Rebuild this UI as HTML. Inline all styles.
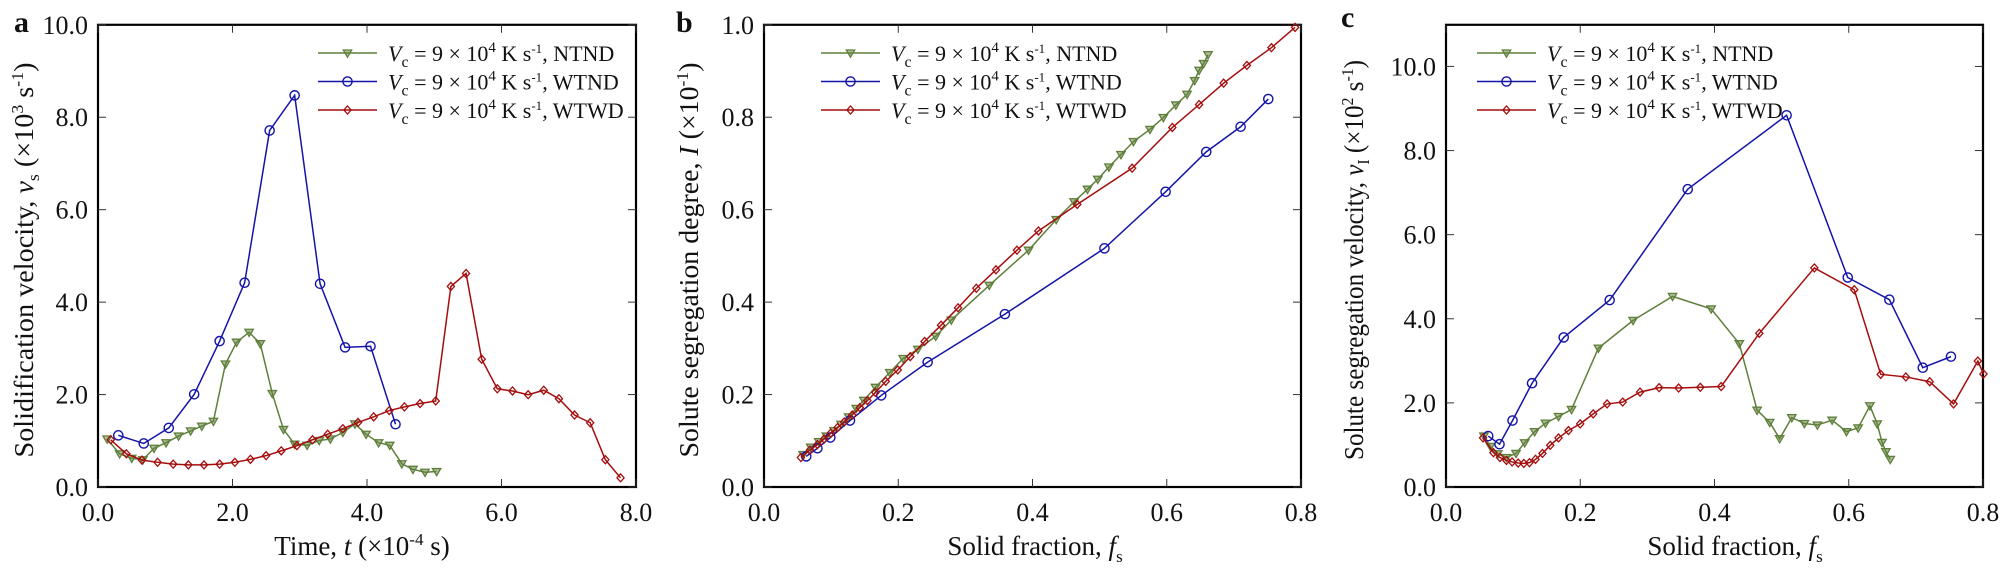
<!DOCTYPE html>
<html><head><meta charset="utf-8"><style>
html,body{margin:0;padding:0;background:#fff;width:2000px;height:579px;overflow:hidden}
svg{display:block}
svg, svg text{font-family:"Liberation Serif","DejaVu Serif",serif !important;fill:#111}
</style></head><body>
<svg id="s" width="2000" height="579" xmlns="http://www.w3.org/2000/svg" font-family="Liberation Serif, serif"></svg>
<script>
const S=document.getElementById('s');let h='';
const SY=2.706, TOP=24.8, BOT=487;
const G='#5f7f3a',B='#1414a8',R='#a50d0d';
function mk(col,type,x,y){
 if(type=='c')return `<circle cx="${x}" cy="${y}" r="4.6" fill="none" stroke="${col}" stroke-width="1.4"/>`;
 if(type=='t')return `<path d="M${x-4.2} ${y-3}L${x+4.2} ${y-3}L${x} ${y+4.2}Z" fill="${col}" fill-opacity="0.5" stroke="${col}" stroke-width="1.3"/>`;
 return `<path d="M${x} ${y-4}L${x+3.6} ${y}L${x} ${y+4}L${x-3.6} ${y}Z" fill="none" stroke="${col}" stroke-width="1.3"/>`;
}
function series(pts,off,sx,col,type){
 const p=pts.map(a=>[off+a[0]/sx,a[1]/SY]);
 h+=`<polyline points="${p.map(a=>a.join(',')).join(' ')}" fill="none" stroke="${col}" stroke-width="1.5"/>`;
 p.forEach(a=>h+=mk(col,type,a[0],a[1]));
}
const F='font-family="Liberation Serif, serif"';
function panel(o){
 const L=o.L,Rr=o.R;
 h+=`<rect x="${L}" y="${TOP}" width="${Rr-L}" height="${BOT-TOP}" fill="none" stroke="#000" stroke-width="2.2"/>`;
 o.xt.forEach((v,i)=>{const x=L+(Rr-L)*v/o.xmax;
  h+=`<line x1="${x}" y1="${BOT}" x2="${x}" y2="${BOT-8}" stroke="#333" stroke-width="1"/><line x1="${x}" y1="${TOP}" x2="${x}" y2="${TOP+8}" stroke="#333" stroke-width="1"/>`;
  h+=`<text ${F} x="${x}" y="521" font-size="26" text-anchor="middle">${o.xl[i]}</text>`;});
 o.yt.forEach((v,i)=>{const y=BOT-(BOT-TOP)*v/o.ymax;
  h+=`<line x1="${L}" y1="${y}" x2="${L+8}" y2="${y}" stroke="#333" stroke-width="1"/><line x1="${Rr}" y1="${y}" x2="${Rr-8}" y2="${y}" stroke="#333" stroke-width="1"/>`;
  h+=`<text ${F} x="${L-10}" y="${y+9}" font-size="26" text-anchor="end">${o.yl[i]}</text>`;});
 h+=`<text ${F} x="${o.px}" y="${o.py}" font-size="30" font-weight="bold">${o.p}</text>`;
 h+=`<text ${F} x="${o.xlx}" y="555" font-size="27" text-anchor="middle">${o.xlab}</text>`;
 h+=`<text ${F} transform="translate(${o.ylx},260) rotate(-90)" font-size="27" text-anchor="middle" textLength="${o.ylw}" lengthAdjust="spacingAndGlyphs">${o.ylab}</text>`;
 const leg=[['NTND',G,'t'],['WTND',B,'c'],['WTWD',R,'d']];
 leg.forEach((l,i)=>{const y=53+i*28.5;
  h+=`<line x1="${o.lx}" y1="${y}" x2="${o.lx+59}" y2="${y}" stroke="${l[1]}" stroke-width="1.5"/>`+mk(l[1],l[2],o.lx+29.5,y);
  h+=`<text ${F} x="${o.lx+70}" y="${y+8}" font-size="22"><tspan font-style="italic">V</tspan><tspan font-size="16" dy="6">c</tspan><tspan dy="-6"> = 9 × 10</tspan><tspan font-size="15" dy="-9">4</tspan><tspan dy="9"> K s</tspan><tspan font-size="13" dy="-8">-1</tspan><tspan dy="8">, ${l[0]}</tspan></text>`;});
}
const xa=[0,2,4,6,8],xl=['0.0','2.0','4.0','6.0','8.0'];
const yA=[0,2,4,6,8,10],yAl=['0.0','2.0','4.0','6.0','8.0','10.0'];
const xb=[0,0.2,0.4,0.6,0.8],xbl=['0.0','0.2','0.4','0.6','0.8'];
panel({L:98,R:636,xt:xa,xl:xl,xmax:8,yt:yA,yl:yAl,ymax:10,p:'a',px:14,py:32,xlx:362,
 xlab:'Time, <tspan font-style="italic">t</tspan> (×10<tspan font-size="17" dy="-10">-4</tspan><tspan dy="10"> s)</tspan>',ylx:33,ylw:395,
 ylab:'Solidification velocity, <tspan font-style="italic">v</tspan><tspan font-size="17" dy="6">s</tspan><tspan dy="-6"> (×10</tspan><tspan font-size="17" dy="-10">3</tspan><tspan dy="10"> s</tspan><tspan font-size="17" dy="-10">-1</tspan><tspan dy="10">)</tspan>',lx:318});
panel({L:764,R:1301,xt:xb,xl:xbl,xmax:0.8,yt:[0,.2,.4,.6,.8,1],yl:['0.0','0.2','0.4','0.6','0.8','1.0'],ymax:1,p:'b',px:676,py:32,xlx:1035,
 xlab:'Solid fraction, <tspan font-style="italic">f</tspan><tspan font-size="17" dy="7">s</tspan>',ylx:698,ylw:395,
 ylab:'Solute segregation degree, <tspan font-style="italic">I</tspan> (×10<tspan font-size="17" dy="-10">-1</tspan><tspan dy="10">)</tspan>',lx:821});
panel({L:1446,R:1983,xt:xb,xl:xbl,xmax:0.8,yt:[0,2,4,6,8,10],yl:yAl,ymax:10.99,p:'c',px:1341,py:27,xlx:1735,
 xlab:'Solid fraction, <tspan font-style="italic">f</tspan><tspan font-size="17" dy="7">s</tspan>',ylx:1363,ylw:400,
 ylab:'Solute segregation velocity, <tspan font-style="italic">v</tspan><tspan font-size="17" dy="6">I</tspan><tspan dy="-6"> (×10</tspan><tspan font-size="17" dy="-10">2</tspan><tspan dy="10"> s</tspan><tspan font-size="17" dy="-10">-1</tspan><tspan dy="10">)</tspan>',lx:1477});
// panel a
series([[240,1188],[268,1228],[295,1240],[320,1244],[345,1213],[372,1198],[400,1180],[427,1166],[452,1153],[478,1140],[505,985],[530,926],[558,899],[583,930],[610,1065],[635,1162],[660,1202],[688,1205],[715,1192],[740,1188],[768,1170],[795,1147],[820,1175],[848,1198],[873,1205],[900,1255],[925,1270],[952,1278],[978,1276]],0,2.24,G,'t');
series([[265,1178],[322,1200],[378,1158],[435,1067],[492,923],[548,765],[604,353],[660,258],[717,768],[773,940],[830,937],[886,1148]],0,2.24,B,'c');
series([[248,1190],[283,1228],[318,1245],[353,1251],[388,1256],[422,1258],[457,1258],[492,1256],[526,1251],[561,1243],[596,1233],[630,1220],[665,1206],[700,1190],[734,1175],[768,1160],[802,1143],[837,1128],[872,1111],[906,1101],[941,1092],[976,1085],[1010,775],[1044,740],[1079,972],[1114,1052],[1148,1058],[1183,1068],[1218,1056],[1252,1079],[1287,1123],[1322,1144],[1356,1244],[1390,1293]],0,2.24,R,'d');
// panel b
series([[343,1230],[360,1210],[378,1195],[395,1180],[412,1165],[428,1148],[445,1128],[462,1105],[479,1083],[505,1048],[537,1008],[567,970],[600,945],[640,910],[675,866],[760,772],[848,677],[910,594],[950,546],[980,512],[1003,485],[1028,452],[1055,418],[1083,383],[1120,350],[1150,318],[1178,284],[1203,255],[1220,218],[1230,190],[1240,172],[1250,148]],650,2.24,G,'t');
series([[350,1235],[375,1213],[404,1184],[448,1138],[518,1070],[622,980],[795,850],[1018,672],[1155,519],[1246,411],[1323,343],[1385,268]],650,2.24,B,'c');
series([[338,1238],[358,1218],[375,1203],[390,1188],[405,1172],[420,1157],[435,1142],[453,1123],[470,1103],[487,1084],[505,1062],[528,1032],[555,1001],[583,965],[615,924],[652,880],[690,833],[731,780],[775,730],[822,677],[870,625],[957,553],[1080,455],[1170,345],[1230,283],[1285,225],[1337,177],[1392,129],[1445,74]],650,2.24,R,'d');
// panel c
series([[378,1180],[393,1208],[410,1228],[430,1238],[452,1227],[472,1198],[495,1168],[520,1145],[550,1127],[580,1108],[642,942],[722,867],[813,802],[902,836],[967,930],[1008,1110],[1037,1143],[1060,1187],[1088,1130],[1117,1146],[1147,1150],[1181,1137],[1214,1168],[1241,1158],[1268,1098],[1285,1147],[1296,1197],[1305,1222],[1315,1243]],1320,2.306,G,'t');
series([[388,1180],[414,1202],[444,1138],[489,1037],[562,913],[668,812],[848,512],[1076,312],[1217,751],[1313,811],[1390,995],[1455,965]],1320,2.306,B,'c');
series([[376,1185],[400,1225],[415,1238],[430,1246],[443,1250],[457,1253],[470,1254],[483,1252],[497,1243],[513,1227],[531,1205],[550,1185],[573,1165],[600,1147],[630,1120],[662,1093],[698,1088],[738,1061],[782,1049],[827,1050],[877,1048],[925,1046],[1013,902],[1140,725],[1232,784],[1293,1013],[1351,1020],[1406,1033],[1461,1093],[1517,977],[1530,1012]],1320,2.306,R,'d');
S.innerHTML=h;
</script>
</body></html>
